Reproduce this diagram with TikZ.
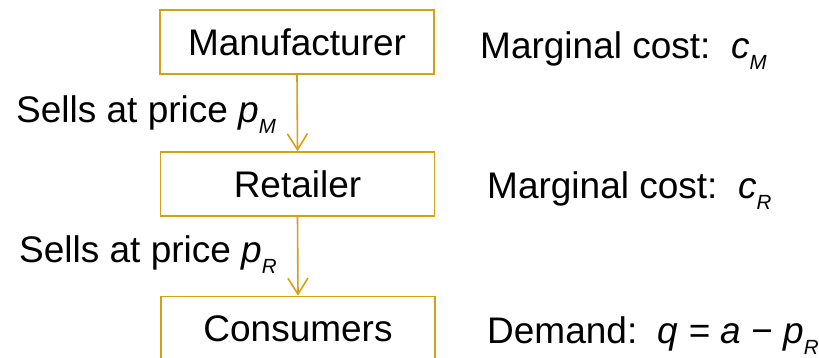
\documentclass[tikz,border=0pt]{standalone}
\usepackage{fontspec}
\setmainfont{Liberation Sans}
\usetikzlibrary{arrows.meta}
\definecolor{gold}{RGB}{214,160,20}
\newcommand{\sbx}[1]{\raisebox{-11pt}{\fontsize{20.5}{20}\selectfont\itshape #1}}
\begin{document}
\begin{tikzpicture}[x=1pt,y=-1pt,
  box/.style={draw=gold,line width=1.6pt,minimum width=274pt,minimum height=64pt,text height=26.5pt,text depth=0pt,inner sep=0pt},
  lbl/.style={anchor=base west,inner sep=0pt},
  flow/.style={draw=gold,line width=1.6pt,-{Straight Barb[length=16pt,width=20pt,line width=1.6pt]}},
  every node/.style={font=\fontsize{37}{40}\selectfont}]
\useasboundingbox (0,0) rectangle (819,357);
\node[box] (man) at (297,42) {Manufacturer};
\node[box] (ret) at (297.5,184) {Retailer};
\node[box] (con) at (298,328.5) {Consumers};
\draw[flow] (man.south) -- (ret.north);
\draw[flow] (ret.south) -- (con.north);
\node[lbl] (s1) at (16,122) {Sells at price \textit{p}\sbx{M}};
\node[lbl] (s2) at (19,262) {Sells at price \textit{p}\sbx{R}};
\node[lbl] (m1) at (480,58) {Marginal cost:\ \ \textit{c}\sbx{M}};
\node[lbl] (m2) at (487,198) {Marginal cost:\ \ \textit{c}\sbx{R}};
\node[lbl] (d) at (487,343) {Demand:\ \ \textit{q} = \textit{a} − \textit{p}\sbx{R}};
\end{tikzpicture}
\end{document}
